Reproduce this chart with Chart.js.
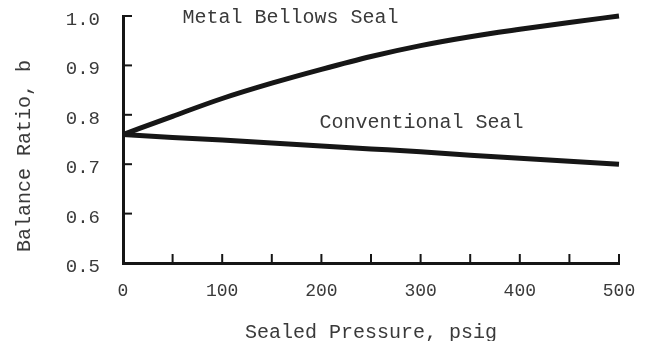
<!DOCTYPE html>
<html>
<head>
<meta charset="utf-8">
<script src="https://cdn.jsdelivr.net/npm/chart.js@4.4.1/dist/chart.umd.min.js"></script>
<style>
  html, body { margin: 0; padding: 0; background: #fff; }
  #wrap { width: 649px; height: 341px; }
</style>
</head>
<body>
<div id="wrap"><canvas id="sealChart" width="649" height="341"></canvas></div>
<script>
// Balance ratio vs sealed pressure
const pressure = [0, 50, 100, 150, 200, 250, 300, 350, 400, 450, 500];
const bellowsRatio = [0.76, 0.797, 0.833, 0.864, 0.892, 0.918, 0.94, 0.958, 0.973, 0.987, 1.0];
const conventionalRatio = [0.76, 0.754, 0.749, 0.743, 0.737, 0.731, 0.725, 0.718, 0.712, 0.706, 0.70];
const xTitle = 'Sealed Pressure, psig';
const yTitle = 'Balance Ratio, b';
const notes = [
    { text: 'Metal Bellows Seal', x: 60, y: 0.997 },
    { text: 'Conventional Seal', x: 198, y: 0.783 }
];

const ink = '#161616';
const textInk = '#3a3a3a';
const mono = '"Liberation Mono", "DejaVu Sans Mono", monospace';

const toPoints = (ys) => pressure.map((p, i) => ({ x: p, y: ys[i] }));

// inward tick marks, axis title and the two curve notes
const extras = {
    id: 'extras',
    afterDraw(chart) {
        const c = chart.ctx;
        const xs = chart.scales.x;
        const ys = chart.scales.y;
        const area = chart.chartArea;
        c.save();
        c.strokeStyle = ink;
        c.lineWidth = 2;
        xs.ticks.forEach((t, i) => {
            const px = xs.getPixelForTick(i);
            if (t.value === 0) return;
            c.beginPath();
            c.moveTo(px, area.bottom);
            c.lineTo(px, area.bottom - 9);
            c.stroke();
        });
        ys.ticks.forEach((t, i) => {
            const py = ys.getPixelForTick(i);
            if (t.value === 0.5) return;
            c.beginPath();
            c.moveTo(area.left, py);
            c.lineTo(area.left + 9, py);
            c.stroke();
        });

        c.fillStyle = textInk;
        c.font = '20px ' + mono;
        c.textBaseline = 'middle';
        notes.forEach(n => {
            c.textAlign = 'left';
            c.fillText(n.text, xs.getPixelForValue(n.x), ys.getPixelForValue(n.y));
        });

        c.translate(25, 156);
        c.rotate(-Math.PI / 2);
        c.textAlign = 'center';
        c.fillText(yTitle, 0, 0);
        c.restore();
    }
};

new Chart(document.getElementById('sealChart'), {
    type: 'line',
    data: {
        datasets: [
            {
                label: 'Metal Bellows Seal',
                data: toPoints(bellowsRatio),
                borderColor: ink,
                borderWidth: 5,
                pointRadius: 0,
                cubicInterpolationMode: 'monotone',
                clip: 10
            },
            {
                label: 'Conventional Seal',
                data: toPoints(conventionalRatio),
                borderColor: ink,
                borderWidth: 5,
                pointRadius: 0,
                cubicInterpolationMode: 'monotone',
                clip: 10
            }
        ]
    },
    options: {
        responsive: false,
        animation: false,
        events: [],
        layout: { padding: { top: 16, right: 30, left: 0, bottom: 0 } },
        plugins: {
            legend: { display: false },
            tooltip: { enabled: false }
        },
        scales: {
            x: {
                type: 'linear',
                min: 0,
                max: 500,
                afterFit: (s) => { s.height = 78; s.paddingLeft = 0; s.paddingRight = 0; },
                grid: { display: false },
                border: { color: ink, width: 3 },
                ticks: {
                    stepSize: 50,
                    autoSkip: false,
                    maxRotation: 0,
                    padding: 9,
                    color: textInk,
                    font: { family: mono, size: 18 },
                    callback: (v) => (v % 100 === 0 ? String(v) : '')
                },
                title: {
                    display: true,
                    text: xTitle,
                    color: textInk,
                    font: { family: mono, size: 20, lineHeight: 1 },
                    padding: { top: 0, bottom: -2 }
                }
            },
            y: {
                min: 0.5,
                max: 1.0,
                afterFit: (s) => { s.width = 123; s.paddingTop = 0; s.paddingBottom = 0; },
                grid: { display: false },
                border: { color: ink, width: 3 },
                ticks: {
                    stepSize: 0.1,
                    padding: 15,
                    labelOffset: 4,
                    color: textInk,
                    font: { family: mono, size: 19 },
                    callback: (v) => v.toFixed(1)
                }
            }
        }
    },
    plugins: [extras]
});
</script>
</body>
</html>
